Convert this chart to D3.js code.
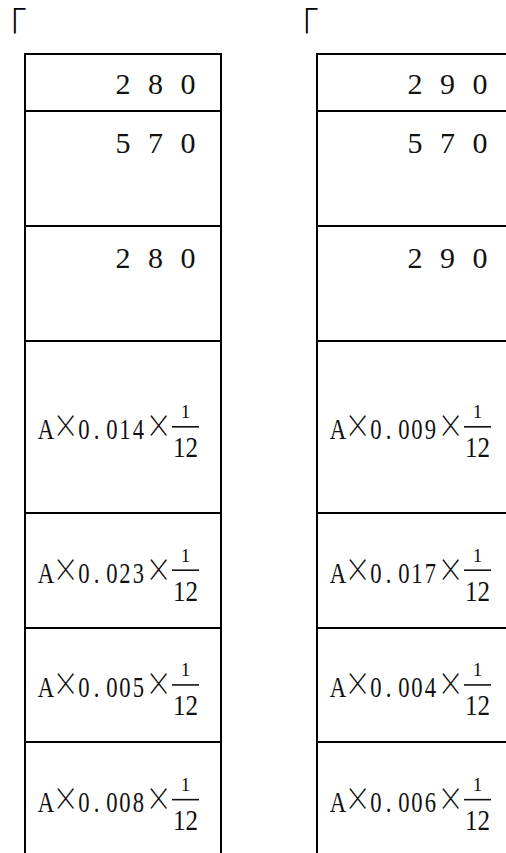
<!DOCTYPE html>
<html><head><meta charset="utf-8">
<script src="https://cdn.jsdelivr.net/npm/d3@7"></script>
<style>html,body{margin:0;padding:0;background:#fff;}svg{display:block;}</style>
</head><body>
<script>
// ---- data ----
const tables = ["left", "right"];
const leftAmounts = [280, 570, 280];
const rightAmounts = [290, 570, 290];
const leftRates = [0.014, 0.023, 0.005, 0.008];
const rightRates = [0.009, 0.017, 0.004, 0.006];
const rowUnits = [1, 2, 2, 3, 2, 2, 2];
const numerator = 1;
const denominator = 12;

const W = 506, H = 853;
const svg = d3.select("body").append("svg").attr("width", W).attr("height", H);

const tw = 196;
const xl = d3.scaleOrdinal().domain(tables).range([25, 317]);

const cum = [0];
rowUnits.forEach(u => cum.push(cum[cum.length - 1] + u));
const y = d3.scaleLinear().domain([0, cum[cum.length - 1]]).range([54, 857]);

const data = {
  left: { amounts: leftAmounts, rates: leftRates },
  right: { amounts: rightAmounts, rates: rightRates }
};

const fmt = d3.format(".3f");
const serif = "'Liberation Serif','DejaVu Serif',serif";
const cjk = "'Noto Sans CJK JP','Noto Sans CJK SC',sans-serif";
// glyph centres (relative to table left) for the formula text
const glyphX = [21, 40.5, 59, 71.5, 87, 100, 113.5, 133.5];
const sx = 0.78;

tables.forEach(t => {
  const L = xl(t);
  const g = svg.append("g");
  // bracket
  g.append("text").attr("x", L - 17).attr("y", 40)
    .attr("font-family", cjk).attr("font-weight", 300)
    .style("font-feature-settings", "'halt'")
    .attr("font-size", 38).text("「");
  // horizontal lines
  cum.forEach(c => {
    g.append("line").attr("x1", L - 1).attr("x2", L + tw + 1)
      .attr("y1", Math.round(y(c))).attr("y2", Math.round(y(c)))
      .attr("stroke", "#000").attr("stroke-width", 2);
  });
  [L, L + tw].forEach(xx => {
    g.append("line").attr("x1", xx).attr("x2", xx).attr("y1", y(0) - 1).attr("y2", y(cum[cum.length - 1]))
      .attr("stroke", "#000").attr("stroke-width", 2);
  });
  // amounts
  data[t].amounts.forEach((v, i) => {
    const top = y(cum[i]);
    String(v).split("").forEach((ch, j) => {
      g.append("text").attr("x", L + 98 + j * 32.5).attr("y", top + (i === 0 ? 40 : 42))
        .attr("text-anchor", "middle").attr("font-family", serif).attr("font-size", 30)
        .attr("fill", "#111").text(ch);
    });
  });
  // rates
  data[t].rates.forEach((r, k) => {
    const i = k + 3;
    const c = (y(cum[i]) + y(cum[i + 1])) / 2;
    const chars = ("A×" + fmt(r) + "×").split("");
    const tx = g.append("text")
      .attr("transform", `translate(${L},${c + 12.5}) scale(${sx},1)`)
      .attr("text-anchor", "middle")
      .attr("font-family", serif).attr("font-size", 29).attr("fill", "#111");
    chars.forEach((ch, j) => {
      const sp = tx.append("tspan").attr("x", glyphX[j] / sx).attr("y", 0).text(ch);
      if (ch === "×") sp.attr("font-family", cjk).attr("font-weight", 300).attr("font-size", 33).attr("y", -1);
    });
    const bx = L + 160.5;
    g.append("line").attr("x1", bx - 13.5).attr("x2", bx + 13.5).attr("y1", c).attr("y2", c)
      .attr("stroke", "#111").attr("stroke-width", 1.6);
    g.append("text").attr("x", bx).attr("y", c - 8.5).attr("text-anchor", "middle")
      .attr("font-family", serif).attr("font-size", 19).attr("fill", "#111").text(numerator);
    g.append("text").attr("x", bx).attr("y", c + 30.5).attr("text-anchor", "middle")
      .attr("font-family", serif).attr("font-size", 29).attr("fill", "#111")
      .attr("textLength", 25).attr("lengthAdjust", "spacingAndGlyphs").text(denominator);
  });
});
</script>
</body></html>
